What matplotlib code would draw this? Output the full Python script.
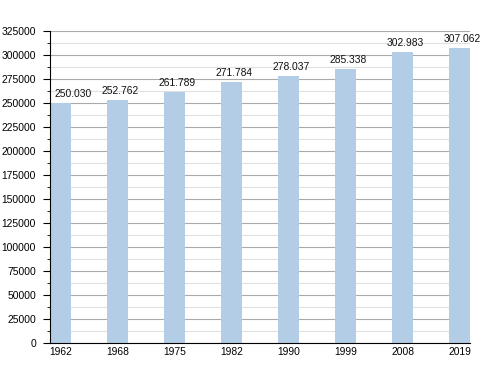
import matplotlib
matplotlib.use("Agg")
import matplotlib.pyplot as plt
from matplotlib.ticker import MultipleLocator

years = ["1962", "1968", "1975", "1982", "1990", "1999", "2008", "2019"]
population = [250030, 252762, 261789, 271784, 278037, 285338, 302983, 307062]
labels = ["250.030", "252.762", "261.789", "271.784", "278.037", "285.338", "302.983", "307.062"]

plt.rcParams['font.family'] = ['Liberation Sans', 'DejaVu Sans']
fig = plt.figure(figsize=(5, 3.73), dpi=100)
ax = fig.add_axes([0.1, 0.0804, 0.84, 0.8365])
x = list(range(len(years)))
ax.bar(x, population, width=0.37, color='#b3cde6', zorder=2)
for i, (xi, v, lab) in enumerate(zip(x, population, labels)):
    dx = 9 if i == 0 else 2
    ax.annotate(lab, (xi, v), xytext=(dx, 3), textcoords='offset points',
                ha='center', va='bottom', fontsize=7.4, color='#111111', zorder=3)
ax.set_xlim(-0.18, 7.18)
ax.set_ylim(0, 325000)
ax.yaxis.set_major_locator(MultipleLocator(25000))
ax.yaxis.set_minor_locator(MultipleLocator(12500))
ax.grid(axis='y', which='major', color='#aaaaaa', linewidth=0.8, zorder=0)
ax.grid(axis='y', which='minor', color='#e0e0e0', linewidth=0.8, zorder=0)
ax.set_axisbelow(True)
ax.set_xticks(x)
ax.set_xticklabels(years)
ax.tick_params(axis='x', length=0, labelsize=7.4, pad=3)
ax.tick_params(axis='y', which='major', length=5, labelsize=7.4, direction='out', pad=5)
ax.tick_params(axis='y', which='minor', length=2.2, direction='out')
for s in ['top', 'right']:
    ax.spines[s].set_visible(False)
ax.spines['left'].set_color('black')
ax.spines['bottom'].set_color('black')
fig.savefig('out.png', dpi=100)
